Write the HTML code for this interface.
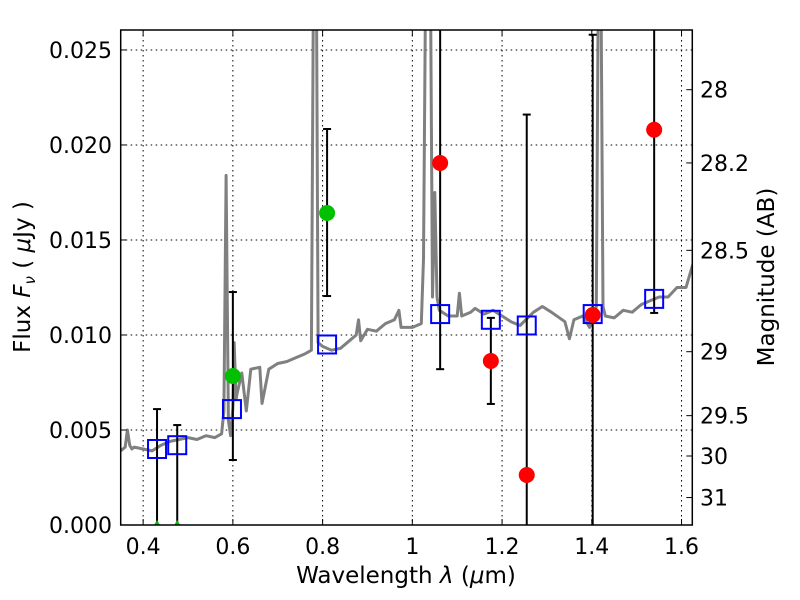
<!DOCTYPE html>
<html><head><meta charset="utf-8"><style>
html,body{margin:0;padding:0;background:#fff;}
svg{display:block;font-family:"DejaVu Sans","Liberation Sans",sans-serif;}
</style></head><body>
<svg id="chart" width="800" height="600" xmlns="http://www.w3.org/2000/svg">
<rect width="800" height="600" fill="#fff"/>
<g id="grid"></g>
<g id="spec"></g>
<g id="marks"></g>
<rect x="120.7" y="30" width="571.6" height="495" fill="none" stroke="#000" stroke-width="1.5"/>
<g id="axes"></g>
<text x="406" y="583" font-size="23" text-anchor="middle">Wavelength  <tspan font-style="italic">λ</tspan> (<tspan font-style="italic">μ</tspan>m)</text>
<text transform="translate(30,277) rotate(-90)" font-size="23" text-anchor="middle">Flux  <tspan font-style="italic">F</tspan><tspan font-style="italic" font-size="15" dy="5">ν</tspan><tspan dy="-5">  ( </tspan><tspan font-style="italic">μ</tspan>Jy )</text>
<text transform="translate(774,277) rotate(-90)" font-size="23" text-anchor="middle">Magnitude (AB)</text>
</svg>
<script>
const xTicks=[0.4,0.6,0.8,1.0,1.2,1.4,1.6];
const xTickLabels=["0.4","0.6","0.8","1","1.2","1.4","1.6"];
const yTicks=[0,0.005,0.010,0.015,0.020,0.025];
const yTickLabels=["0.000","0.005","0.010","0.015","0.020","0.025"];
const magTicks=[28,28.2,28.5,29,29.5,30,31];
const magTickLabels=["28","28.2","28.5","29","29.5","30","31"];
const specWave=[0.35,0.36,0.365,0.37,0.375,0.38,0.40,0.42,0.44,0.46,0.48,0.50,0.52,0.54,0.56,0.575,0.58,0.585,0.59,0.595,0.60,0.603,0.607,0.61,0.62,0.63,0.64,0.66,0.665,0.68,0.70,0.72,0.74,0.76,0.775,0.78,0.782,0.786,0.79,0.80,0.82,0.84,0.86,0.875,0.88,0.885,0.90,0.92,0.94,0.96,0.97,0.975,1.0,1.02,1.025,1.03,1.04,1.045,1.05,1.055,1.06,1.08,1.10,1.105,1.11,1.13,1.14,1.16,1.18,1.20,1.22,1.24,1.27,1.29,1.31,1.34,1.35,1.36,1.38,1.395,1.41,1.415,1.42,1.425,1.43,1.45,1.47,1.49,1.51,1.53,1.55,1.57,1.59,1.61,1.625];
const specFlux=[0.0039,0.0041,0.0050,0.0042,0.0040,0.0041,0.0040,0.0039,0.0042,0.0044,0.0045,0.0046,0.0045,0.0047,0.0046,0.0048,0.0060,0.0184,0.0055,0.0047,0.0062,0.0096,0.0066,0.0070,0.0080,0.0060,0.0082,0.0083,0.0064,0.0082,0.0085,0.0086,0.0088,0.0090,0.0092,0.030,0.030,0.030,0.0096,0.0094,0.0092,0.0093,0.0097,0.0100,0.0108,0.0097,0.0103,0.0102,0.0106,0.0108,0.0113,0.0104,0.0104,0.0106,0.0140,0.030,0.030,0.0120,0.0175,0.0120,0.0113,0.0110,0.0110,0.0122,0.0110,0.0112,0.0114,0.0111,0.0113,0.0110,0.0107,0.0105,0.0112,0.0115,0.0112,0.0107,0.0098,0.0108,0.0110,0.0104,0.0115,0.030,0.030,0.0115,0.0110,0.0109,0.0113,0.0112,0.0116,0.0118,0.0120,0.0120,0.0125,0.0125,0.0137];
const modelWave=[0.431,0.476,0.598,0.81,1.062,1.175,1.255,1.402,1.539];
const modelFlux=[0.0040,0.0042,0.0061,0.0095,0.0111,0.0108,0.0105,0.0111,0.0119];
const obsWave=[0.431,0.476,0.600,0.81,1.062,1.175,1.255,1.402,1.539];
const obsFlux=[0.0,0.0,0.00784,0.01642,0.01905,0.00863,0.00263,0.01105,0.0208];
const obsErrLo=[0.0,0.0,0.00342,0.01205,0.0082,0.00637,-0.02,-0.02,0.01116];
const obsErrHi=[0.0061,0.00526,0.01226,0.02084,0.04,0.0109,0.0216,0.0258,0.04];
const obsColor=["#00c000","#00c000","#00c000","#00c000","#ff0000","#ff0000","#ff0000","#ff0000","#ff0000"];

const X0=120.7,X1=692.3,Y0=525,Y1=30,XMIN=0.35,XMAX=1.624,YMIN=0,YMAX=0.02605;
const sx=v=>X0+(v-XMIN)/(XMAX-XMIN)*(X1-X0);
const sy=v=>Y0-(v-YMIN)/(YMAX-YMIN)*(Y0-Y1);
const magToFlux=m=>Math.pow(10,-0.4*(m-23.9));
const NS="http://www.w3.org/2000/svg";
function mk(tag,attrs,parent){const e=document.createElementNS(NS,tag);for(const k in attrs)e.setAttribute(k,attrs[k]);parent.appendChild(e);return e;}
const grid=document.getElementById('grid'),axes=document.getElementById('axes'),spec=document.getElementById('spec'),marks=document.getElementById('marks');
const clamp=v=>Math.max(Y1,Math.min(Y0,v));
xTicks.forEach((t,i)=>{
  const x=sx(t);
  const g=mk('line',{x1:x,x2:x,y1:Y1,y2:Y0,stroke:'#000','stroke-width':1,'stroke-dasharray':'1.5,3.5'},grid);
  
  
  mk('line',{x1:x,x2:x,y1:Y0,y2:Y0-6,stroke:'#000'},axes);
  mk('line',{x1:x,x2:x,y1:Y1,y2:Y1+6,stroke:'#000'},axes);
  const tx=mk('text',{x:x,y:554,'font-size':22,'text-anchor':'middle'},axes);
  tx.textContent=xTickLabels[i];
  
  
});
yTicks.forEach((t,i)=>{
  const y=sy(t);
  if(i>0){const g=mk('line',{x1:X0,x2:X1,y1:y,y2:y,stroke:'#000','stroke-width':1,'stroke-dasharray':'1.5,3.5'},grid);
  
  }
  mk('line',{x1:X0,x2:X0+6,y1:y,y2:y,stroke:'#000'},axes);
  const tx=mk('text',{x:112,y:y+8,'font-size':22,'text-anchor':'end'},axes);
  tx.textContent=yTickLabels[i];
  
  
});
magTicks.forEach((m,i)=>{
  const y=sy(magToFlux(m));
  mk('line',{x1:X1,x2:X1-6,y1:y,y2:y,stroke:'#000'},axes);
  const tx=mk('text',{x:700,y:y+8,'font-size':22},axes);
  tx.textContent=magTickLabels[i];
  
  
});
const cp=mk('clipPath',{id:'pc'},document.getElementById('chart'));
mk('rect',{x:X0,y:Y1,width:X1-X0,height:Y0-Y1},cp);
const pts=specWave.map((w,i)=>sx(w).toFixed(1)+','+sy(specFlux[i]).toFixed(1)).join(' ');
const pl=mk('polyline',{points:pts,fill:'none',stroke:'#808080','stroke-width':3,'stroke-linejoin':'round','clip-path':'url(#pc)'},spec);


obsWave.forEach((w,i)=>{
  const x=sx(w),yl=clamp(sy(obsErrLo[i])),yh=clamp(sy(obsErrHi[i]));
  const eb=mk('g',{},marks);
  
  
  mk('line',{x1:x,x2:x,y1:yl,y2:yh,stroke:'#000','stroke-width':2},eb);
  if(sy(obsErrHi[i])>Y1) mk('line',{x1:x-4,x2:x+4,y1:yh,y2:yh,stroke:'#000','stroke-width':2},eb);
  if(sy(obsErrLo[i])<Y0) mk('line',{x1:x-4,x2:x+4,y1:yl,y2:yl,stroke:'#000','stroke-width':2},eb);
});
modelWave.forEach((w,i)=>{
  const r=mk('rect',{x:sx(w)-9,y:sy(modelFlux[i])-9,width:18,height:18,fill:'none',stroke:'#0000ff','stroke-width':2},marks);
  
  
});
obsWave.forEach((w,i)=>{
  if(obsFlux[i]<=0){
    const t=mk('polygon',{points:(sx(w)-3)+','+Y0+' '+(sx(w)+3)+','+Y0+' '+sx(w)+','+(Y0-5),fill:obsColor[i]},marks);
    
    
    return;
  }
  const c=mk('circle',{cx:sx(w),cy:sy(obsFlux[i]),r:8,fill:obsColor[i]},marks);
  
  
});
</script>
</body></html>
